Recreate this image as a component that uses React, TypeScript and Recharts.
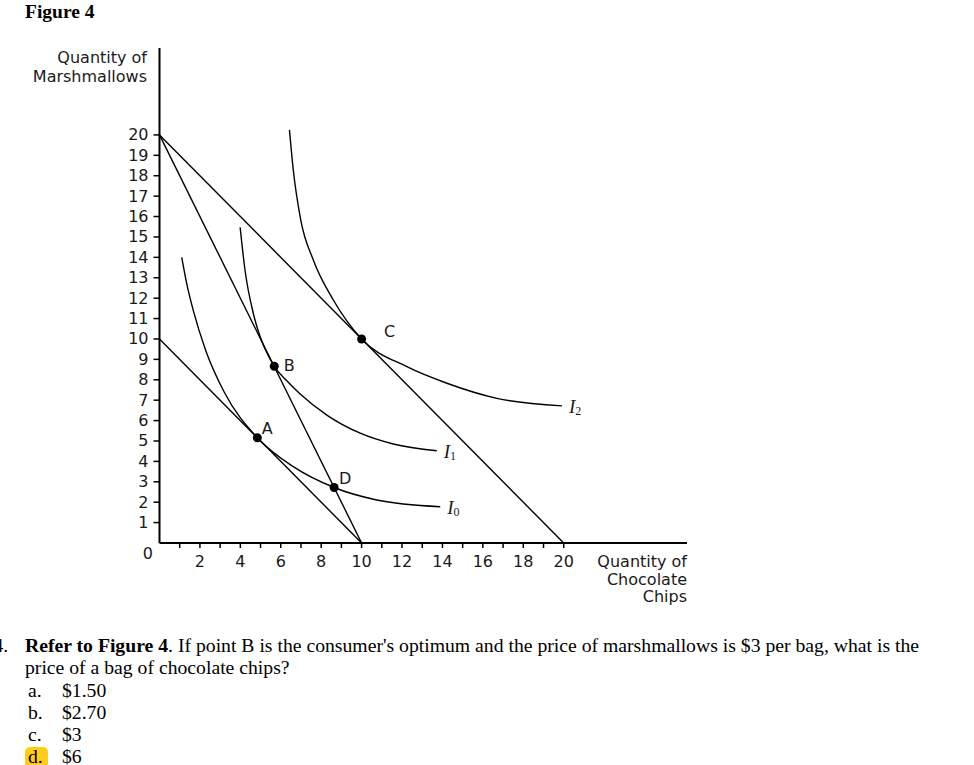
import { ComposedChart, Line, Scatter, XAxis, YAxis, ReferenceDot } from 'recharts';

// budget lines
const budgetHigh = [{ x: 0, y: 20 }, { x: 20, y: 0 }];
const budgetSteep = [{ x: 0, y: 20 }, { x: 10, y: 0 }];
const budgetLow = [{ x: 0, y: 10 }, { x: 10, y: 0 }];

// indifference curves
const curveI0 = [
  { x: 1.1, y: 14.0 }, { x: 1.35, y: 12.7 }, { x: 1.67, y: 11.4 }, { x: 2.3, y: 9.4 },
  { x: 3.2, y: 7.4 }, { x: 4.84, y: 5.16 }, { x: 6.62, y: 3.74 }, { x: 8.64, y: 2.72 },
  { x: 10.75, y: 2.11 }, { x: 13.89, y: 1.78 },
];
const curveI1 = [
  { x: 3.99, y: 15.47 }, { x: 4.23, y: 13.38 }, { x: 4.64, y: 11.26 }, { x: 4.85, y: 10.5 },
  { x: 5.68, y: 8.66 }, { x: 6.3, y: 7.95 }, { x: 6.96, y: 7.3 }, { x: 8.28, y: 6.27 },
  { x: 9.93, y: 5.38 }, { x: 11.57, y: 4.85 }, { x: 13.72, y: 4.52 },
];
const curveI2 = [
  { x: 6.43, y: 20.25 }, { x: 6.62, y: 18.28 }, { x: 6.99, y: 15.83 }, { x: 7.61, y: 13.87 },
  { x: 8.6, y: 11.91 }, { x: 10, y: 10 }, { x: 12.24, y: 8.64 }, { x: 14.22, y: 7.83 },
  { x: 16.69, y: 7.09 }, { x: 19.91, y: 6.72 },
];

const points = [
  { name: 'A', x: 4.84, y: 5.16 },
  { name: 'B', x: 5.68, y: 8.66 },
  { name: 'C', x: 10, y: 10 },
  { name: 'D', x: 8.64, y: 2.72 },
];

const curveNames = ['0', '1', '2'];
const xTicks = [1, 2, 3, 4, 5, 6, 7, 8, 9, 10, 11, 12, 13, 14, 15, 16, 17, 18, 19, 20];
const yTicks = [0, 1, 2, 3, 4, 5, 6, 7, 8, 9, 10, 11, 12, 13, 14, 15, 16, 17, 18, 19, 20];

const options = [
  { letter: 'a.', text: '$1.50' },
  { letter: 'b.', text: '$2.70' },
  { letter: 'c.', text: '$3' },
  { letter: 'd.', text: '$6' },
];

const sans = '"DejaVu Sans", sans-serif';
const serif = '"Liberation Serif", "Times New Roman", serif';
const ink = '#1a1a1a';

const labelOffset: Record<string, [number, number]> = {
  A: [10, -9],
  B: [15, -1],
  C: [28, -7],
  D: [11, -9],
};

function YTick(props: any) {
  const { x, y, payload } = props;
  const v = payload.value;
  if (v === 0) {
    return (
      <text x={x + 3.5} y={y + 10} textAnchor="end" dominantBaseline="central" fontSize={16} fontFamily={sans} fill={ink}>
        0
      </text>
    );
  }
  return (
    <g>
      <line x1={x + 4} x2={x + 10} y1={y} y2={y} stroke="#000" strokeWidth={1.5} />
      <text x={x - 1} y={y} textAnchor="end" dominantBaseline="central" fontSize={16} fontFamily={sans} fill={ink}>
        {v}
      </text>
    </g>
  );
}

function XTick(props: any) {
  const { x, y, payload } = props;
  const v = payload.value;
  return (
    <g>
      <line x1={x} x2={x} y1={y - 7} y2={y - 2} stroke="#000" strokeWidth={1.5} />
      {v % 2 === 0 && (
        <text x={x} y={y + 11} textAnchor="middle" dominantBaseline="central" fontSize={16} fontFamily={sans} fill={ink}>
          {v}
        </text>
      )}
    </g>
  );
}

function PointShape(props: any) {
  const { cx, cy, payload } = props;
  const [dx, dy] = labelOffset[payload.name];
  return (
    <g>
      <circle cx={cx} cy={cy} r={4.5} fill="#000" />
      <text x={cx + dx} y={cy + dy} textAnchor="middle" dominantBaseline="central" fontSize={16} fontFamily={sans} fill={ink}>
        {payload.name}
      </text>
    </g>
  );
}

function curveLabel(sub: string) {
  return (props: any) => (
    <text x={props.cx + 7} y={props.cy + 1} fontFamily={serif} fontStyle="italic" fontSize={19} fill={ink} dominantBaseline="central">
      I
      <tspan fontSize={12} dy={4} fontStyle="normal">{sub}</tspan>
    </text>
  );
}

export default function App() {
  const curves = [curveI0, curveI1, curveI2];
  return (
    <div style={{ position: 'relative', width: 974, height: 765, background: '#fff', overflow: 'hidden' }}>
      <style>{'body{margin:0}'}</style>

      <div style={{ position: 'absolute', left: 25, top: 1, fontFamily: serif, fontWeight: 'bold', fontSize: 19.5, lineHeight: '22px' }}>
        Figure 4
      </div>

      <div style={{ position: 'absolute', left: 0, width: 147, top: 48, textAlign: 'right', fontFamily: sans, fontSize: 16, lineHeight: '19px', color: ink }}>
        Quantity of<br />Marshmallows
      </div>

      <div style={{ position: 'absolute', left: 500, width: 187, top: 553, textAlign: 'right', fontFamily: sans, fontSize: 16, lineHeight: '17.5px', color: ink }}>
        Quantity of<br />Chocolate<br />Chips
      </div>

      <div style={{ position: 'absolute', left: 0, top: 0 }}>
        <ComposedChart width={974} height={765} margin={{ top: 48, right: 287, bottom: 192, left: 99.5 }}>
          <XAxis
            type="number"
            dataKey="x"
            domain={[0, 26.1]}
            ticks={xTicks}
            interval={0}
            height={30}
            tickSize={5}
            tickMargin={2}
            tickLine={false}
            tick={<XTick />}
            axisLine={{ stroke: '#000', strokeWidth: 2 }}
            allowDataOverflow
          />
          <YAxis
            type="number"
            dataKey="y"
            domain={[0, 24.26]}
            ticks={yTicks}
            interval={0}
            width={60}
            tickSize={6}
            tickMargin={4}
            tickLine={false}
            tick={<YTick />}
            axisLine={{ stroke: '#000', strokeWidth: 2 }}
            allowDataOverflow
          />
          <Line data={budgetHigh} dataKey="y" type="linear" stroke="#000" strokeWidth={1.4} dot={false} isAnimationActive={false} />
          <Line data={budgetSteep} dataKey="y" type="linear" stroke="#000" strokeWidth={1.4} dot={false} isAnimationActive={false} />
          <Line data={budgetLow} dataKey="y" type="linear" stroke="#000" strokeWidth={1.4} dot={false} isAnimationActive={false} />
          {curves.map((c, i) => (
            <Line key={i} data={c} dataKey="y" type="monotone" stroke="#000" strokeWidth={1.4} dot={false} isAnimationActive={false} />
          ))}
          <Scatter data={points} dataKey="y" shape={<PointShape />} isAnimationActive={false} />
          {curves.map((c, i) => (
            <ReferenceDot key={'l' + i} x={c[c.length - 1].x} y={c[c.length - 1].y} r={0} shape={curveLabel(curveNames[i])} />
          ))}
        </ComposedChart>
      </div>

      <div style={{ position: 'absolute', left: 0, top: 634, width: 974, fontFamily: serif, fontSize: 19.7, lineHeight: '22.3px', color: '#000' }}>
        <div style={{ position: 'relative', height: 22.3 }}>
          <span style={{ position: 'absolute', left: -6.5 }}>4.</span>
          <span style={{ position: 'absolute', left: 25, whiteSpace: 'nowrap' }}>
            <b>Refer to Figure 4</b>. If point B is the consumer's optimum and the price of marshmallows is $3 per bag, what is the
          </span>
        </div>
        <div style={{ position: 'relative', height: 22.3 }}>
          <span style={{ position: 'absolute', left: 25 }}>price of a bag of chocolate chips?</span>
        </div>
        {options.map((o, i) => (
          <div key={o.letter} style={{ position: 'relative', height: 22.3 }}>
            {i === 3 && (
              <span style={{ position: 'absolute', left: 25, top: 2, width: 23, height: 22, background: '#ffcc1a', borderRadius: 5 }} />
            )}
            <span style={{ position: 'absolute', left: 28 }}>{o.letter}</span>
            <span style={{ position: 'absolute', left: 62 }}>{o.text}</span>
          </div>
        ))}
      </div>
    </div>
  );
}
